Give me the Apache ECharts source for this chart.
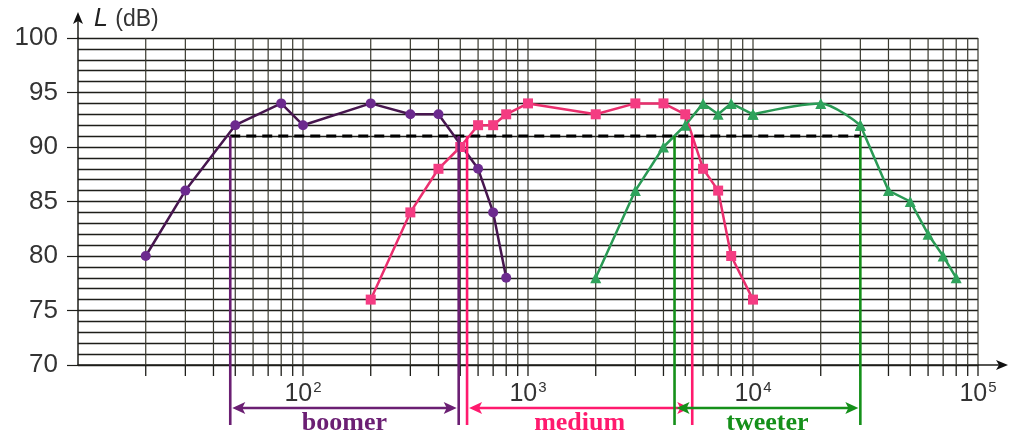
<!DOCTYPE html>
<html><head><meta charset="utf-8">
<script src="https://cdn.jsdelivr.net/npm/echarts@6/dist/echarts.min.js"></script>
<style>html,body{margin:0;padding:0;background:#fff}#c{width:1012px;height:434px}</style>
</head><body><div id="c"></div>
<script>
// ---- data ----
const freqBoomer  = [20, 30, 50, 80, 100, 200, 300, 400, 600, 700, 800];
const levelBoomer = [80, 86, 92, 94, 92, 94, 93, 93, 88, 84, 78];
const freqMedium  = [200, 300, 400, 500, 600, 700, 800, 1000, 2000, 3000, 4000, 5000, 6000, 7000, 8000, 10000];
const levelMedium = [76, 84, 88, 90, 92, 92, 93, 94, 93, 94, 94, 93, 88, 86, 80, 76];
const freqTweeter  = [2000, 3000, 4000, 5000, 6000, 7000, 8000, 10000, 20000, 30000, 40000, 50000, 60000, 70000, 80000];
const levelTweeter = [78, 86, 90, 92, 94, 93, 94, 93, 94, 92, 86, 85, 82, 80, 78];
const tweeterArcStart = 7, tweeterArcEnd = 9; // rounded part 10^4 .. 3·10^4
const refLevel = 91;
const bandNames = ['boomer', 'medium', 'tweeter'];
const bandLow   = [47.5, 536, 4480];
const bandHigh  = [492, 5370, 30000];
const bandColors = ['#6b1f73', '#ff1a6e', '#15901a'];
const yMin = 70, yMax = 100, yStep = 5;
const xMin = 10, xMax = 100000;

// grid frequencies 2..9 x 10^k (library positions them on the log axis)
const gridFreqs = [];
for (let k = 1; k <= 4; k++) for (let m = 1; m <= 9; m++) { const f = m * Math.pow(10, k); if (f > xMin && f <= xMax) gridFreqs.push(f); }
gridFreqs.push(xMax);

const zip = (a, b) => a.map((v, i) => [v, b[i]]);
const tw = zip(freqTweeter, levelTweeter);

const chart = echarts.init(document.getElementById('c'), null, {renderer: 'canvas'});
const gridColor = '#1e1e1a';
const boomerLine = '#47164f', boomerMark = '#6c2a8e';
const mediumLine = '#ea2f6e', mediumMark = '#f43c82';
const tweetLine = '#2a9a55', tweetMark = '#2fa35c';

function lineSeries(name, data, lc, mc, sym, size, extra) {
  return Object.assign({
    name, type: 'line', data, symbol: sym, symbolSize: size, showSymbol: true,
    lineStyle: {color: lc, width: 2.5}, itemStyle: {color: mc, borderWidth: 0},
    emphasis: {disabled: true}, z: 5, animation: false
  }, extra || {});
}

chart.setOption({
  animation: false,
  grid: {left: 78, right: 34, top: 38, bottom: 69},
  xAxis: {
    type: 'log', logBase: 10, min: xMin, max: xMax,
    axisLine: {show: true, lineStyle: {color: gridColor, width: 1.5}},
    axisTick: {show: false},
    splitLine: {show: false},
    axisLabel: {
      margin: 15,
      formatter: v => v <= xMin ? '' : '{b|10}{s|' + Math.round(Math.log10(v)) + '}',
      rich: {
        b: {fontSize: 25, color: '#333', fontFamily: 'Liberation Sans', lineHeight: 28},
        s: {fontSize: 15, color: '#333', fontFamily: 'Liberation Sans', verticalAlign: 'top', padding: [0, 0, 10, 1]}
      }
    }
  },
  yAxis: {
    type: 'value', min: yMin, max: yMax, interval: yStep,
    name: '{i|L} {n|(dB)}', nameLocation: 'end', nameGap: 6,
    nameTextStyle: {align: 'left', padding: [0, 0, 0, 16],
      rich: {i: {fontSize: 25, fontStyle: 'italic', color: '#222', fontFamily: 'Liberation Sans'},
             n: {fontSize: 23, color: '#333', fontFamily: 'Liberation Sans', padding: [0, 0, 0, 4]}}},
    axisLine: {show: true, lineStyle: {color: gridColor, width: 1.5}},
    axisTick: {show: true, length: 11, lineStyle: {color: gridColor, width: 1.2}},
    axisLabel: {margin: 20, fontSize: 26, color: '#333', fontFamily: 'Liberation Sans'},
    splitLine: {show: true, lineStyle: {color: gridColor, width: 1.3}},
    minorTick: {show: false, splitNumber: 5},
    minorSplitLine: {show: true, lineStyle: {color: gridColor, width: 1.3}}
  },
  series: [
    { // vertical grid lines + ticks below the axis
      type: 'custom', silent: true, clip: false, z: 1,
      data: gridFreqs.map(f => [f, yMin]),
      encode: {x: 0, y: 1},
      renderItem: (p, api) => {
        const f = api.value(0);
        const t = api.coord([f, yMax]), b = api.coord([f, yMin]);
        return {type: 'group', children: [
          {type: 'line', shape: {x1: t[0], y1: t[1], x2: b[0], y2: b[1]}, style: {stroke: '#3a3a30', lineWidth: 1.2}},
          {type: 'line', shape: {x1: b[0], y1: b[1], x2: b[0], y2: b[1] + 11}, style: {stroke: gridColor, lineWidth: 1.3}}
        ]};
      }
    },
    { // axis arrow extensions
      type: 'custom', silent: true, clip: false, z: 6,
      data: [[xMin, yMin]], encode: {x: 0, y: 1},
      renderItem: (p, api) => {
        const top = api.coord([xMin, yMax]);
        const right = api.coord([xMax, yMin]);
        const tipY = top[1] - 26, tipX = right[0] + 30;
        return {type: 'group', children: [
          {type: 'line', shape: {x1: top[0], y1: top[1], x2: top[0], y2: tipY + 4}, style: {stroke: gridColor, lineWidth: 1.5}},
          {type: 'polygon', shape: {points: [[top[0], tipY], [top[0] - 5, tipY + 12], [top[0], tipY + 9], [top[0] + 5, tipY + 12]]}, style: {fill: '#111'}},
          {type: 'line', shape: {x1: right[0], y1: right[1], x2: tipX - 4, y2: right[1]}, style: {stroke: gridColor, lineWidth: 1.5}},
          {type: 'polygon', shape: {points: [[tipX, right[1]], [tipX - 12, right[1] - 5], [tipX - 9, right[1]], [tipX - 12, right[1] + 5]]}, style: {fill: '#111'}}
        ]};
      }
    },
    { // dashed reference level
      type: 'line', data: [[bandLow[0], refLevel], [bandHigh[2], refLevel]], symbol: 'none', silent: true, z: 3,
      lineStyle: {color: '#000', width: 3, type: [10, 6]}
    },
    lineSeries('boomer', zip(freqBoomer, levelBoomer), boomerLine, boomerMark, 'circle', 10),
    lineSeries('medium', zip(freqMedium, levelMedium), mediumLine, mediumMark, 'rect', 10),
    lineSeries('tweeterA', tw.slice(0, tweeterArcStart + 1), tweetLine, tweetMark, 'triangle', 11),
    lineSeries('tweeterArc', tw.slice(tweeterArcStart, tweeterArcEnd + 1), tweetLine, tweetMark, 'triangle', 11, {smooth: 0.3}),
    lineSeries('tweeterB', tw.slice(tweeterArcEnd), tweetLine, tweetMark, 'triangle', 11),
    { // frequency bands with double arrows
      type: 'custom', silent: true, clip: false, z: 8,
      data: bandNames.map((n, i) => [bandLow[i], refLevel, bandHigh[i], i]),
      encode: {x: 0, y: 1},
      renderItem: (p, api) => {
        const i = api.value(3);
        const a = api.coord([api.value(0), refLevel]);
        const b = api.coord([api.value(2), refLevel]);
        const base = api.coord([xMin, yMin])[1];
        const c = bandColors[i];
        const ay = base + 43, bottom = base + 60;
        const L = 13, W = 6;
        return {type: 'group', children: [
          {type: 'line', shape: {x1: a[0], y1: a[1], x2: a[0], y2: bottom}, style: {stroke: c, lineWidth: 2.6}},
          {type: 'line', shape: {x1: b[0], y1: b[1], x2: b[0], y2: bottom}, style: {stroke: c, lineWidth: 2.6}},
          {type: 'line', shape: {x1: a[0] + 6, y1: ay, x2: b[0] - 6, y2: ay}, style: {stroke: c, lineWidth: 2.6}},
          {type: 'polygon', shape: {points: [[a[0] + 2, ay], [a[0] + 2 + L, ay - W], [a[0] + 2 + L - 3, ay], [a[0] + 2 + L, ay + W]]}, style: {fill: c}},
          {type: 'polygon', shape: {points: [[b[0] - 2, ay], [b[0] - 2 - L, ay - W], [b[0] - 2 - L + 3, ay], [b[0] - 2 - L, ay + W]]}, style: {fill: c}},
          {type: 'text', style: {text: bandNames[i], x: (a[0] + b[0]) / 2, y: base + 58, align: 'center', verticalAlign: 'middle',
            fill: c, font: 'bold 26px "Liberation Serif", serif'}}
        ]};
      }
    }
  ]
});
</script></body></html>
